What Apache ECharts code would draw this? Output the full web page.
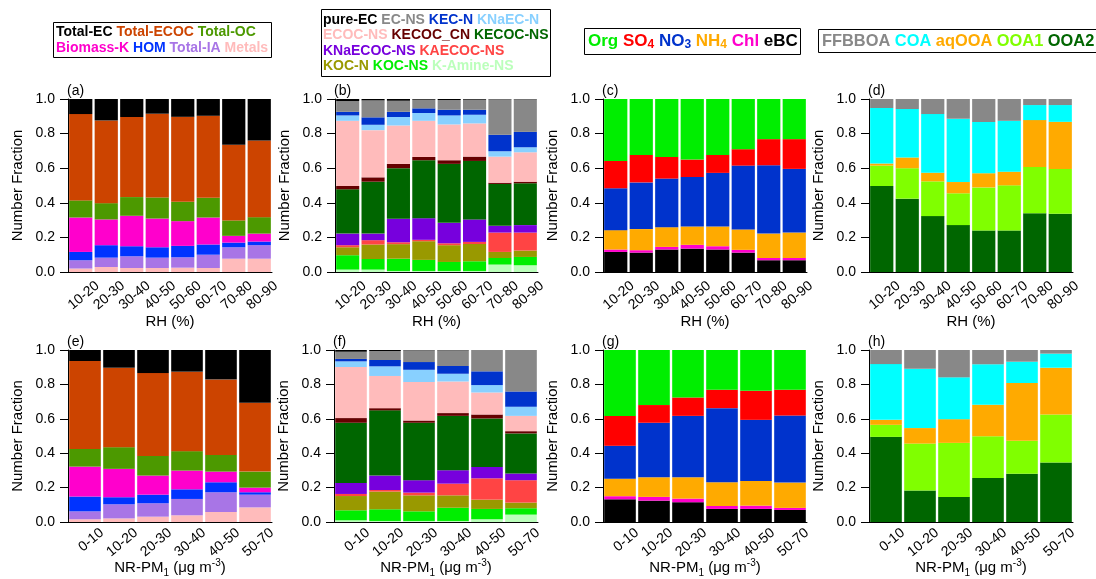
<!DOCTYPE html>
<html>
<head>
<meta charset="utf-8">
<script src="https://cdn.jsdelivr.net/npm/echarts@6/dist/echarts.min.js"></script>
<style>
  html, body { margin: 0; padding: 0; background: #fff; }
  #chart { width: 1096px; height: 579px; }
</style>
</head>
<body>
<div id="chart"></div>
<script>
var FONT = "Liberation Sans, Arial, sans-serif";

// x categories
var rhBins = ["10-20", "20-30", "30-40", "40-50", "50-60", "60-70", "70-80", "80-90"];
var pmBins = ["0-10", "10-20", "20-30", "30-40", "40-50", "50-70"];

// (a)/(e) particle classes, stacked bottom -> top
var classNames = ["Metals", "Total-IA", "HOM", "Biomass-K", "Total-OC", "Total-ECOC", "Total-EC"];
var classColors = ["#ffbbbb", "#a875e6", "#0033ff", "#ff00cc", "#4c9900", "#cc4400", "#000000"];
var classRH = [
  [0.020, 0.029, 0.023, 0.023, 0.025, 0.023, 0.077, 0.077],
  [0.048, 0.054, 0.068, 0.060, 0.060, 0.077, 0.066, 0.078],
  [0.048, 0.072, 0.058, 0.060, 0.066, 0.059, 0.027, 0.021],
  [0.199, 0.149, 0.176, 0.166, 0.143, 0.156, 0.039, 0.046],
  [0.099, 0.094, 0.108, 0.122, 0.112, 0.114, 0.089, 0.095],
  [0.499, 0.478, 0.463, 0.484, 0.491, 0.474, 0.437, 0.443],
  [0.087, 0.124, 0.104, 0.085, 0.103, 0.097, 0.265, 0.240],
];
var classPM = [
  [0.016, 0.021, 0.031, 0.039, 0.058, 0.085],
  [0.046, 0.082, 0.078, 0.095, 0.115, 0.074],
  [0.086, 0.041, 0.050, 0.056, 0.058, 0.014],
  [0.174, 0.165, 0.111, 0.109, 0.062, 0.027],
  [0.103, 0.126, 0.114, 0.113, 0.097, 0.093],
  [0.511, 0.462, 0.482, 0.462, 0.439, 0.400],
  [0.064, 0.103, 0.134, 0.126, 0.171, 0.307],
];

// (b)/(f) sub-classes, stacked bottom -> top
var subNames = ["K-Amine-NS", "KOC-NS", "KOC-N", "KAECOC-NS", "KNaECOC-NS", "KECOC-NS",
  "KECOC_CN", "ECOC-NS", "KNaEC-N", "KEC-N", "EC-NS", "pure-EC"];
var subColors = ["#bbffbb", "#00ee00", "#999900", "#ff4444", "#7700dd", "#006600",
  "#660000", "#ffbbbb", "#88d0ff", "#0033cc", "#888888", "#000000"];
var subRH = [
  [0.014, 0.014, 0.006, 0.006, 0.006, 0.006, 0.043, 0.039],
  [0.083, 0.061, 0.071, 0.064, 0.052, 0.056, 0.038, 0.048],
  [0.046, 0.084, 0.084, 0.108, 0.097, 0.100, 0.035, 0.037],
  [0.012, 0.025, 0.011, 0.008, 0.011, 0.012, 0.112, 0.104],
  [0.067, 0.038, 0.136, 0.125, 0.118, 0.130, 0.039, 0.043],
  [0.256, 0.300, 0.292, 0.335, 0.341, 0.338, 0.242, 0.242],
  [0.019, 0.025, 0.025, 0.019, 0.021, 0.025, 0.007, 0.009],
  [0.377, 0.273, 0.222, 0.209, 0.207, 0.192, 0.151, 0.170],
  [0.031, 0.031, 0.049, 0.045, 0.052, 0.050, 0.031, 0.029],
  [0.021, 0.043, 0.030, 0.027, 0.033, 0.029, 0.095, 0.089],
  [0.062, 0.098, 0.064, 0.050, 0.056, 0.058, 0.205, 0.188],
  [0.012, 0.008, 0.010, 0.004, 0.006, 0.004, 0.002, 0.002],
];
var subPM = [
  [0.010, 0.006, 0.006, 0.006, 0.016, 0.043],
  [0.058, 0.068, 0.056, 0.077, 0.060, 0.037],
  [0.083, 0.103, 0.093, 0.072, 0.054, 0.033],
  [0.012, 0.009, 0.016, 0.068, 0.124, 0.130],
  [0.064, 0.084, 0.072, 0.078, 0.066, 0.039],
  [0.350, 0.379, 0.334, 0.316, 0.282, 0.233],
  [0.027, 0.013, 0.013, 0.016, 0.023, 0.013],
  [0.297, 0.187, 0.224, 0.184, 0.128, 0.089],
  [0.033, 0.056, 0.071, 0.045, 0.043, 0.053],
  [0.014, 0.037, 0.045, 0.045, 0.080, 0.089],
  [0.042, 0.052, 0.068, 0.091, 0.124, 0.241],
  [0.010, 0.006, 0.002, 0.002, 0.000, 0.000],
];

// (c)/(g) bulk species, stacked bottom -> top
var bulkNames = ["eBC", "Chl", "NH4", "NO3", "SO4", "Org"];
var bulkColors = ["#000000", "#ff00cc", "#ffaa00", "#0033cc", "#ff0000", "#00ee00"];
var bulkRH = [
  [0.116, 0.112, 0.130, 0.135, 0.130, 0.112, 0.068, 0.068],
  [0.014, 0.014, 0.015, 0.022, 0.019, 0.016, 0.013, 0.013],
  [0.112, 0.122, 0.114, 0.106, 0.114, 0.118, 0.141, 0.147],
  [0.242, 0.270, 0.281, 0.286, 0.310, 0.369, 0.395, 0.368],
  [0.158, 0.159, 0.125, 0.101, 0.104, 0.095, 0.151, 0.172],
  [0.358, 0.323, 0.335, 0.350, 0.323, 0.290, 0.232, 0.232],
];
var bulkPM = [
  [0.132, 0.124, 0.115, 0.076, 0.076, 0.070],
  [0.018, 0.022, 0.021, 0.017, 0.019, 0.012],
  [0.102, 0.114, 0.124, 0.138, 0.144, 0.147],
  [0.191, 0.317, 0.357, 0.431, 0.355, 0.390],
  [0.174, 0.103, 0.107, 0.107, 0.169, 0.150],
  [0.383, 0.320, 0.276, 0.231, 0.237, 0.231],
];

// (d)/(h) OA factors, stacked bottom -> top
var oaNames = ["OOA2", "OOA1", "aqOOA", "COA", "FFBBOA"];
var oaColors = ["#006600", "#80ff00", "#ffaa00", "#00ffff", "#888888"];
var oaRH = [
  [0.497, 0.424, 0.323, 0.271, 0.240, 0.240, 0.340, 0.337],
  [0.118, 0.176, 0.201, 0.184, 0.249, 0.261, 0.267, 0.259],
  [0.012, 0.062, 0.050, 0.065, 0.082, 0.079, 0.271, 0.272],
  [0.321, 0.280, 0.339, 0.366, 0.296, 0.294, 0.087, 0.097],
  [0.052, 0.058, 0.087, 0.114, 0.133, 0.126, 0.035, 0.035],
];
var oaPM = [
  [0.495, 0.183, 0.146, 0.256, 0.280, 0.346],
  [0.070, 0.273, 0.314, 0.243, 0.192, 0.279],
  [0.029, 0.090, 0.138, 0.183, 0.336, 0.272],
  [0.324, 0.345, 0.243, 0.235, 0.124, 0.082],
  [0.082, 0.109, 0.159, 0.083, 0.068, 0.021],
];

// legend rows
var legendA = [["Total-EC", "Total-ECOC", "Total-OC"], ["Biomass-K", "HOM", "Total-IA", "Metals"]];
var legendB = [["pure-EC", "EC-NS", "KEC-N", "KNaEC-N"], ["ECOC-NS", "KECOC_CN", "KECOC-NS"],
  ["KNaECOC-NS", "KAECOC-NS"], ["KOC-N", "KOC-NS", "K-Amine-NS"]];
var legendC = [["Org", "SO4", "NO3", "NH4", "Chl", "eBC"]];
var legendD = [["FFBBOA", "COA", "aqOOA", "OOA1", "OOA2"]];

var panels = [
  { tag: "(a)", left: 68, top: 99, width: 204, height: 173, cats: rhBins, names: classNames, colors: classColors, values: classRH },
  { tag: "(b)", left: 335, top: 99, width: 203, height: 173, cats: rhBins, names: subNames, colors: subColors, values: subRH },
  { tag: "(c)", left: 603, top: 99, width: 204, height: 173, cats: rhBins, names: bulkNames, colors: bulkColors, values: bulkRH },
  { tag: "(d)", left: 869, top: 99, width: 204, height: 173, cats: rhBins, names: oaNames, colors: oaColors, values: oaRH },
  { tag: "(e)", left: 68, top: 350, width: 204, height: 172, cats: pmBins, names: classNames, colors: classColors, values: classPM },
  { tag: "(f)", left: 334, top: 350, width: 204, height: 172, cats: pmBins, names: subNames, colors: subColors, values: subPM },
  { tag: "(g)", left: 603, top: 350, width: 204, height: 172, cats: pmBins, names: bulkNames, colors: bulkColors, values: bulkPM },
  { tag: "(h)", left: 869, top: 350, width: 204, height: 172, cats: pmBins, names: oaNames, colors: oaColors, values: oaPM },
];

var pmName = "{b|NR-PM}{sub|1}{b| (μg m}{sup|-3}{b|)}";
var pmRich = {
  b: { fontSize: 15, fontFamily: FONT, color: "#000", lineHeight: 20 },
  sub: { fontSize: 10, fontFamily: FONT, color: "#000", lineHeight: 10, verticalAlign: "bottom" },
  sup: { fontSize: 10, fontFamily: FONT, color: "#000", lineHeight: 10, verticalAlign: "top" },
};

var grids = [], xAxes = [], yAxes = [], series = [], titles = [];

panels.forEach(function (p, i) {
  var isTop = i < 4;
  grids.push({ left: p.left, top: p.top, width: p.width, height: p.height });
  xAxes.push({
    type: "category",
    gridIndex: i,
    data: p.cats,
    boundaryGap: true,
    axisLine: { lineStyle: { color: "#000", width: 1 } },
    axisTick: { length: 5, lineStyle: { color: "#000" } },
    axisLabel: { show: false },
    name: isTop ? "RH (%)" : pmName,
    nameLocation: "middle",
    nameGap: isTop ? 42 : 36,
    nameTextStyle: { fontSize: 15, fontFamily: FONT, color: "#000", rich: isTop ? undefined : pmRich },
  });
  yAxes.push({
    type: "value",
    gridIndex: i,
    min: 0,
    max: 1,
    interval: 0.2,
    axisLine: { show: true, lineStyle: { color: "#000", width: 1 } },
    axisTick: { show: true, length: 8, lineStyle: { color: "#000" } },
    axisLabel: { fontSize: 14, fontFamily: FONT, color: "#000", margin: 13, formatter: function (v) { return v.toFixed(1); } },
    splitLine: { show: false },
    name: "Number Fraction",
    nameLocation: "middle",
    nameGap: 43,
    nameTextStyle: { fontSize: 15, fontFamily: FONT, color: "#000" },
  });
  p.names.forEach(function (n, k) {
    series.push({
      type: "bar",
      name: n,
      stack: "s" + i,
      xAxisIndex: i,
      yAxisIndex: i,
      data: p.values[k],
      barCategoryGap: isTop ? "9%" : "7%",
      itemStyle: { color: p.colors[k] },
    });
  });
  titles.push({
    text: p.tag,
    left: p.left - 1,
    top: p.top - 15,
    padding: 0,
    textStyle: { fontSize: 14, fontWeight: "normal", fontFamily: FONT, color: "#000" },
  });
});

// second set of grids only for the rotated tick labels, which sit at the category boundaries
panels.forEach(function (p, i) {
  var isTop = i < 4;
  var gi = grids.length;
  grids.push({ left: p.left + (isTop ? 4 : 0), top: p.top, width: p.width, height: p.height });
  xAxes.push({
    type: "category",
    gridIndex: gi,
    data: [""].concat(p.cats),
    boundaryGap: false,
    axisLine: { show: false },
    axisTick: { show: false },
    splitLine: { show: false },
    axisLabel: { interval: 0, rotate: 40, margin: isTop ? 12 : 9, fontSize: 14, fontFamily: FONT, color: "#000" },
  });
  yAxes.push({ type: "value", gridIndex: gi, show: false, splitLine: { show: false } });
});

function legendTitle(rows, names, colors, fs, lh, left, top, padding, subscript) {
  var rich = {};
  var lines = rows.map(function (row) {
    return row.map(function (n) {
      var k = names.indexOf(n);
      var c = colors[k];
      rich["c" + k] = { color: c, fontSize: fs, fontWeight: "bold", fontFamily: FONT, lineHeight: lh };
      var m = subscript ? n.match(/^(.*[A-Z])(\d)$/) : null;
      if (m) {
        rich["s" + k] = { color: c, fontSize: Math.round(fs * 0.68), fontWeight: "bold", fontFamily: FONT,
          lineHeight: Math.round(fs * 0.68), verticalAlign: "bottom" };
        return "{c" + k + "|" + m[1] + "}{s" + k + "|" + m[2] + "}";
      }
      return "{c" + k + "|" + n + "}";
    }).join(" ");
  });
  return {
    text: lines.join("\n"),
    left: left,
    top: top,
    padding: padding,
    borderColor: "#000",
    borderWidth: 1,
    backgroundColor: "#fff",
    textStyle: { fontSize: fs, fontWeight: "bold", fontFamily: FONT, lineHeight: lh, rich: rich },
  };
}

titles.push(legendTitle(legendA, classNames, classColors, 14, 16, 53, 22, [2, 4, 2, 3], false));
titles.push(legendTitle(legendB, subNames, subColors, 14, 15.5, 321, 9, [3, 2, 3, 2], false));
titles.push(legendTitle(legendC, bulkNames, bulkColors, 17, 19, 584, 28, [4, 3, 4, 4], true));
titles.push(legendTitle(legendD, oaNames, oaColors, 16.4, 18, 818, 29, [3, 3, 3, 4], false));

var myChart = echarts.init(document.getElementById("chart"), null, { renderer: "canvas" });
myChart.setOption({
  animation: false,
  backgroundColor: "#fff",
  title: titles,
  grid: grids,
  xAxis: xAxes,
  yAxis: yAxes,
  series: series,
});
</script>
</body>
</html>
